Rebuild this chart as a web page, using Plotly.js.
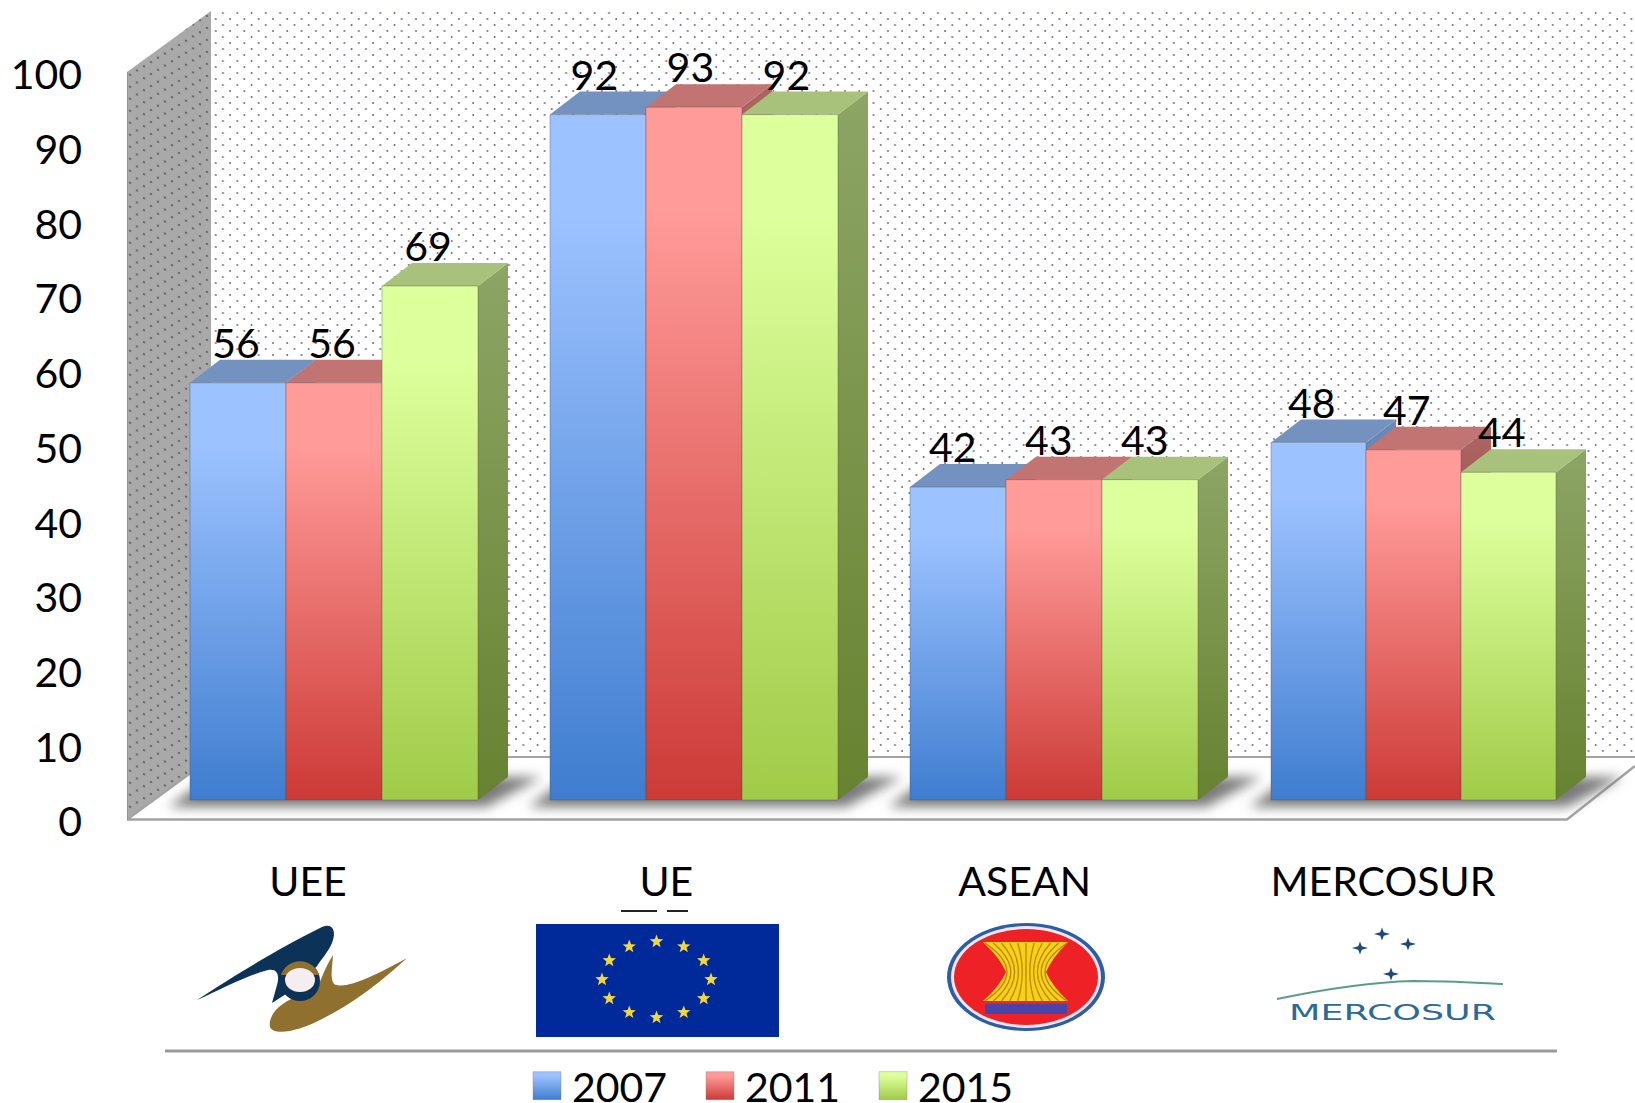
<!DOCTYPE html>
<html><head><meta charset="utf-8">
<script src="https://cdn.plot.ly/plotly-3.0.1.min.js"></script>
<style>html,body{margin:0;padding:0;background:#fff}#chart{width:1635px;height:1103px}</style>
</head><body><div id="chart"></div>
<script>
// ---- data
const categories = ["UEE", "UE", "ASEAN", "MERCOSUR"];
const years = ["2007", "2011", "2015"];
const v2007 = [56, 92, 42, 48];
const v2011 = [56, 93, 43, 47];
const v2015 = [69, 92, 43, 44];
const yTicks = [0, 10, 20, 30, 40, 50, 60, 70, 80, 90, 100];

// ---- geometry of the pseudo-3D frame (page pixels)
const L = 127, R = 1635, T = 11, B = 819, PB = 825;
const axisPx = 7.47, barPx = 7.45, barBase = 800, unitX = 360, x0Px = 308;
const depthX = 30, depthY = 23;
const groupLeft = [190, 550, 910, 1271];
const groupBarW = [96, 96, 96, 95];
const FONT = "Lato, Carlito, 'Open Sans', sans-serif";

const xData = px => (px - x0Px) / unitX;
const yData = py => (B - py) / axisPx;
const paperX = px => (px - L) / (R - L);
const paperY = py => (PB - py) / (PB - T);
const series = [v2007, v2011, v2015];
const idx = categories.map((_, i) => i);

const top3 = [["#9CC2FF", "#3F7DCF"], ["#FF9B99", "#CC3A36"], ["#DDFF9C", "#A0CB48"]];
const topFace = ["#7492BF", "#C27472", "#A9C27B"];
const sideFace = [["#2F5E9C", "#6C8AB6"], ["#8E2E2B", "#AC6462"], ["#678230", "#8DA565"]];

const poly = (pts, extra) => Object.assign({
  type: "scatter", mode: "lines", xaxis: "x", yaxis: "y",
  x: pts.map(p => xData(p[0])), y: pts.map(p => yData(p[1])),
  fill: "toself", line: {width: 0}, showlegend: false, hoverinfo: "skip"
}, extra);
const seg = (pts, color, width) => poly(pts, {fill: "none", line: {color: color, width: width}});

const traces = [];
const mark = {};
mark.back = traces.length;
traces.push(poly([[211, T], [R, T], [R, 757], [211, 757]], {fillcolor: "#ffffff"}));
mark.side = traces.length;
traces.push(poly([[L, 72], [211, T], [211, 757], [L, B]], {fillcolor: "#a8a8a8"}));
traces.push(poly([[L, B], [1567, B], [R, 765], [R, 757], [211, 757]], {fillcolor: "#ffffff"}));
traces.push(seg([[211, 757], [R, 757]], "#a3a3a3", 2));
traces.push(seg([[R, 766], [1567, 819.5], [L, 819.5], [211, 758]], "#a3a3a3", 2.5));
traces.push(seg([[L, 72], [L, 820]], "#8c8c8c", 1.5));

mark.shadow = traces.length;
idx.forEach(i => {
  const g = groupLeft[i];
  traces.push(poly([[g - 22, 807], [g + 296, 807], [g + 352, 777], [g + 20, 777]], {fillcolor: "#7a7a7a"}));
});
mark.shadowEnd = traces.length;

idx.forEach(i => {
  series.forEach((vals, s) => {
    const xl = groupLeft[i] + groupBarW[i] * s, xr = xl + groupBarW[i];
    const top = barBase - barPx * vals[i];
    traces.push(poly([[xr, barBase], [xr + depthX, barBase - depthY], [xr + depthX, top - depthY], [xr, top]], {
      fillcolor: sideFace[s][1],
      fillgradient: {type: "vertical", colorscale: [[0, sideFace[s][0]], [1, sideFace[s][1]]]}
    }));
    traces.push(poly([[xl, top], [xl + depthX, top - depthY], [xr + depthX, top - depthY], [xr, top]], {fillcolor: topFace[s]}));
  });
});

mark.bars = traces.length;
series.forEach((vals, s) => traces.push({
  type: "bar", name: years[s], x: idx, y: vals,
  xaxis: "x", yaxis: "y2",
  width: idx.map(i => groupBarW[i] / unitX),
  offset: idx.map(i => (groupLeft[i] + s * groupBarW[i] - x0Px) / unitX - i),
  marker: {color: top3[s][1], line: {color: "rgba(70,70,70,0.35)", width: 1}},
  hoverinfo: "x+y"
}));
series.forEach((vals, s) => traces.push({
  type: "scatter", mode: "text", xaxis: "x", yaxis: "y2", showlegend: false, hoverinfo: "skip",
  x: idx.map(i => xData(groupLeft[i] + (s + 0.5) * groupBarW[i] - 2 - i * 1.6)),
  y: vals.map(v => v + 35 / barPx),
  text: vals.map(String), textposition: "middle center",
  textfont: {family: FONT, size: 41, color: "#000"}
}));

// ---- logos, drawn once in page pixels
function star5(cx, cy, r) {
  let d = "";
  for (let k = 0; k < 10; k++) {
    const a = -Math.PI / 2 + k * Math.PI / 5, q = k % 2 ? r * 0.42 : r;
    d += (k ? "L" : "M") + (cx + q * Math.cos(a)).toFixed(1) + "," + (cy + q * Math.sin(a)).toFixed(1);
  }
  return d + "Z";
}
function star4(cx, cy, r) {
  const q = r * 0.22;
  return `M${cx},${cy - r * .8}L${cx + q},${cy - q}L${cx + r},${cy}L${cx + q},${cy + q}L${cx},${cy + r * .8}L${cx - q},${cy + q}L${cx - r},${cy}L${cx - q},${cy - q}Z`;
}
let euStars = "";
for (let k = 0; k < 12; k++) {
  const a = k * Math.PI / 6;
  euStars += star5(656.5 + 54.5 * Math.cos(a), 979.5 + 38 * Math.sin(a), 7);
}
let stalks = "";
for (let k = 0; k < 11; k++) {
  const f = (k - 5) / 5;
  const xe = 1026 + f * 41, xm = 1026 + f * 19;
  stalks += `M${xe},943Q${xm},958 ${xm},972Q${xm},986 ${xe},1001`;
}
const logoSvg = `<svg xmlns="http://www.w3.org/2000/svg" width="1635" height="1103" viewBox="0 0 1635 1103">
<defs><filter id="b" x="-5%" y="-5%" width="110%" height="110%"><feGaussianBlur stdDeviation="0.6"/></filter></defs>
<g filter="url(#b)">
<path d="M197,1000C235,975 285,945 322,927C332,923 336,930 333,940C330,950 322,958 317,966L300,985L272,1003L277,985C280,975 277,968 268,970C245,976 220,990 197,1000Z" fill="#0f3059"/>
<path d="M270,1027C268,1015 280,1003 296,997L313,992C321,985 322,972 333,955C332,970 330,978 334,984C345,990 372,977 407,958C385,978 355,1003 320,1020C300,1030 275,1037 270,1027Z" fill="#8f6f2e"/>
<circle cx="300" cy="981" r="20" fill="#0f3059"/>
<path d="M281,975A20,20 0 0 1 319,975Z" fill="#8f6f2e"/>
<ellipse cx="300" cy="980" rx="15" ry="12" fill="#f5eeee"/>
<rect x="621" y="910" width="36" height="2" fill="#222"/><rect x="667" y="910" width="21" height="2" fill="#222"/>
<rect x="536" y="924" width="243" height="113" fill="#05299a"/>
<path d="${euStars}" fill="#f1d63c"/>
<ellipse cx="1026" cy="977" rx="79" ry="54" fill="#2b5ea8"/>
<ellipse cx="1026" cy="977" rx="75" ry="51" fill="#f3e6ee"/>
<ellipse cx="1026" cy="977" rx="72" ry="48" fill="#ee2026"/>
<path d="M983,942H1068Q1052,958 1046,972Q1052,986 1068,1001H983Q1000,986 1006,972Q1000,958 983,942Z" fill="#f7d118"/>
<path d="${stalks}" fill="none" stroke="#b8860b" stroke-width="1.3"/>
<rect x="985" y="1004" width="82" height="10" fill="#4a45a8"/>
<path d="${star4(1360, 948, 8)}${star4(1382, 934, 8)}${star4(1408, 944, 8)}${star4(1391, 974, 8)}" fill="#1f4a78"/>
<path d="M1277,999C1330,988 1375,982 1413,981C1450,981 1480,983 1503,984" fill="none" stroke="#5a9c8c" stroke-width="2"/>
</g></svg>`;

const layout = {
  width: 1635, height: 1103,
  margin: {l: L, r: 0, t: T, b: 1103 - PB, pad: 0, autoexpand: false},
  paper_bgcolor: "#fff", plot_bgcolor: "rgba(0,0,0,0)",
  font: {family: FONT, color: "#000"},
  xaxis: {
    type: "linear", range: [xData(L), xData(R)], showgrid: false, zeroline: false, showline: false,
    tickmode: "array", tickvals: idx.map(i => i * 358.3 / unitX), ticktext: categories,
    ticks: "", ticklabelstandoff: 29, tickfont: {family: FONT, size: 41, color: "#000"}, fixedrange: true
  },
  yaxis: {
    type: "linear", range: [yData(PB), yData(T)], showgrid: false, zeroline: false, showline: false,
    tickmode: "array", tickvals: yTicks, ticks: "", ticklabelstandoff: 44,
    tickfont: {family: FONT, size: 41, color: "#000"}, fixedrange: true
  },
  yaxis2: {
    overlaying: "y", side: "left", range: [-(PB - barBase) / barPx, (barBase - T) / barPx],
    visible: false, showgrid: false, zeroline: false, fixedrange: true
  },
  barmode: "overlay",
  legend: {
    orientation: "h", x: paperX(532), xanchor: "left", y: paperY(1086), yanchor: "middle",
    font: {family: FONT, size: 41, color: "#000"}, entrywidth: 128, entrywidthmode: "pixels",
    traceorder: "normal", bgcolor: "rgba(0,0,0,0)", itemclick: false, itemdoubleclick: false
  },
  shapes: [{
    type: "line", xref: "paper", yref: "paper",
    x0: paperX(165), x1: paperX(1557), y0: paperY(1051), y1: paperY(1051),
    line: {color: "#9a9a9a", width: 3}
  }],
  images: [{
    source: "data:image/svg+xml;charset=utf-8," + encodeURIComponent(logoSvg),
    xref: "paper", yref: "paper", x: paperX(0), y: paperY(0),
    sizex: 1635 / (R - L), sizey: 1103 / (PB - T), xanchor: "left", yanchor: "top", sizing: "stretch", layer: "above"
  }],
  annotations: [{
    text: "MERCOSUR", xref: "paper", yref: "paper", showarrow: false,
    x: paperX(1392), y: paperY(1012), xanchor: "center", yanchor: "middle",
    font: {family: "'DejaVu Sans', sans-serif", size: 22, color: "#2b6a98"}
  }]
};

Plotly.newPlot("chart", traces, layout, {displayModeBar: false, staticPlot: false}).then(gd => {
  const svg = gd.querySelector("svg.main-svg");
  const NS = "http://www.w3.org/2000/svg";
  const defs = document.createElementNS(NS, "defs");
  let grad = "";
  top3.forEach((c, s) => {
    grad += `<linearGradient id="barG${s}" x1="0" y1="0" x2="0" y2="1">
      <stop offset="0" stop-color="${c[0]}"/><stop offset="0.15" stop-color="${c[0]}"/><stop offset="1" stop-color="${c[1]}"/></linearGradient>`;
  });
  grad += `<pattern id="dotsBack" width="14.3" height="12" patternUnits="userSpaceOnUse" x="0" y="5">
     <circle cx="3" cy="3" r="0.95" fill="#6c5c90"/><circle cx="10.15" cy="9" r="0.95" fill="#6c5c90"/></pattern>
   <pattern id="dotsSide" width="14" height="12" patternUnits="userSpaceOnUse" patternTransform="skewY(14)">
     <rect width="14" height="12" fill="#a9a9a9"/>
     <circle cx="3" cy="3" r="1" fill="#4a4a4a"/><circle cx="10" cy="9" r="1" fill="#4a4a4a"/></pattern>
   <filter id="blurShadow" x="-15%" y="-100%" width="130%" height="300%"><feGaussianBlur stdDeviation="6"/></filter>`;
  defs.innerHTML = grad;
  svg.insertBefore(defs, svg.firstChild);

  const main = gd.querySelector(".subplot.xy");
  const sc = main.querySelectorAll(".scatterlayer .trace");
  const fillOf = i => sc[i] && sc[i].querySelector(".js-fill");
  const setFill = (i, id) => { const p = fillOf(i); if (p) p.style.fill = `url(#${id})`; };
  setFill(mark.back, "dotsBack");
  setFill(mark.side, "dotsSide");
  for (let i = mark.shadow; i < mark.shadowEnd; i++) {
    const p = fillOf(i);
    if (p) p.setAttribute("filter", "url(#blurShadow)");
  }
  gd.querySelectorAll(".barlayer .trace").forEach((t, s) => {
    t.querySelectorAll(".point path").forEach(p => { p.style.fill = `url(#barG${s})`; });
  });
  gd.querySelectorAll(".legend .traces").forEach((t, s) => {
    const p = t.querySelector(".legendpoints path");
    if (p) {
      p.setAttribute("d", "M-19,-14H9V14H-19Z");
      p.style.fill = `url(#barG${s})`;
      p.style.stroke = "#777";
      p.style.strokeWidth = "1px";
    }
  });
  gd.querySelectorAll(".ytick text").forEach(t => t.setAttribute("dy", "3"));
  const ann = gd.querySelector(".annotation-text");
  if (ann) { ann.setAttribute("textLength", "207"); ann.setAttribute("lengthAdjust", "spacingAndGlyphs"); }
});
</script>
</body></html>
